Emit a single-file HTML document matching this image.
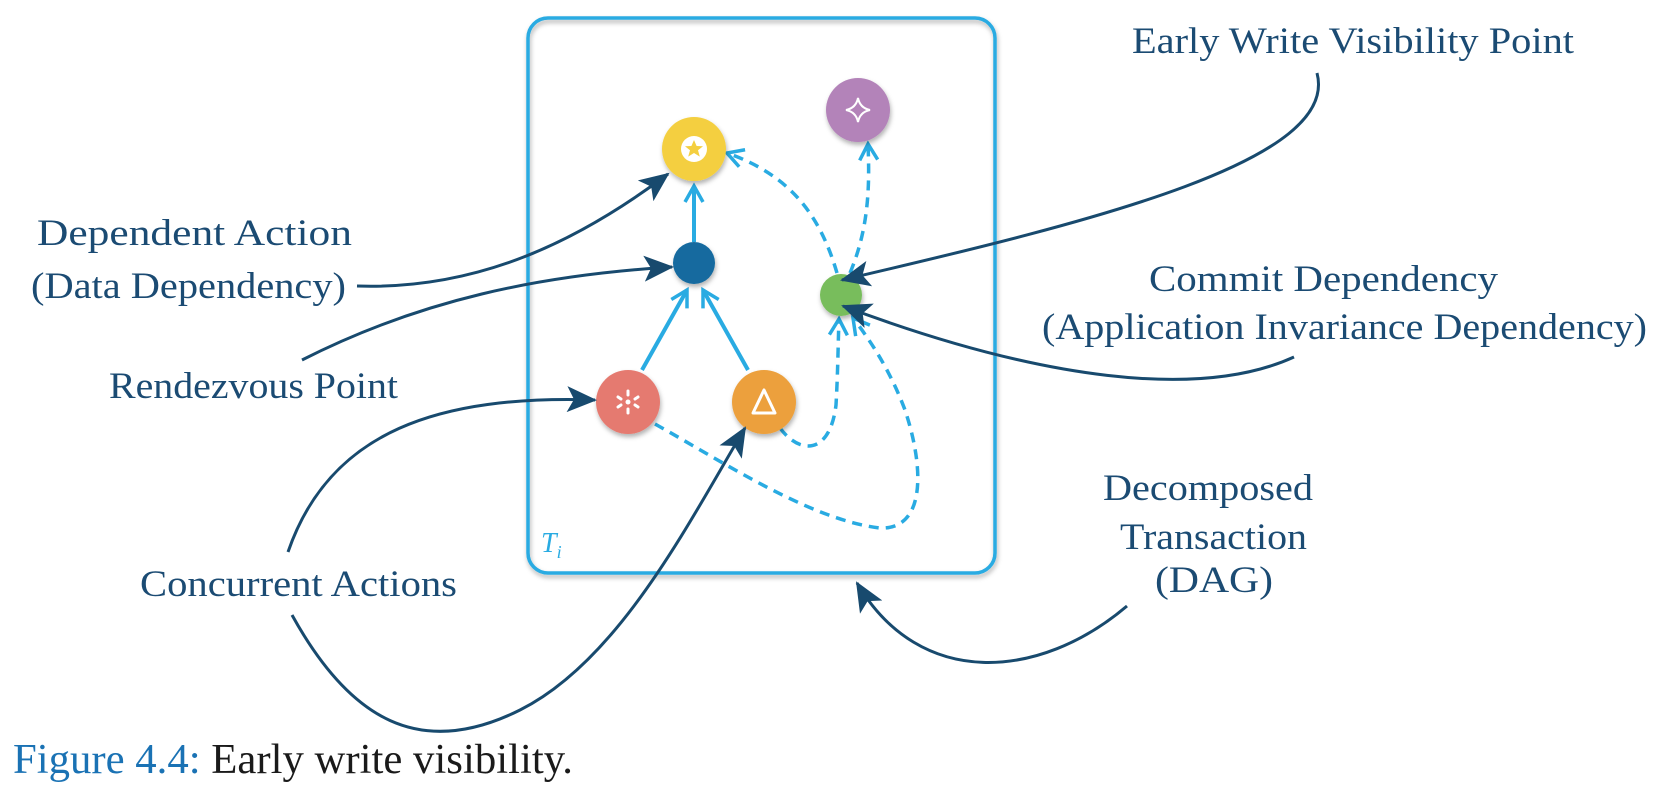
<!DOCTYPE html>
<html><head><meta charset="utf-8"><style>
html,body{margin:0;padding:0;background:#fff;}
svg{display:block;}
text{font-family:"Liberation Serif",serif;fill:#1b4b73;font-size:37px;}
</style></head><body>
<svg width="1656" height="790" viewBox="0 0 1656 790" xmlns="http://www.w3.org/2000/svg">
<defs>
<marker id="adB" markerWidth="30" markerHeight="26" refX="28" refY="13" orient="auto" markerUnits="userSpaceOnUse" viewBox="0 0 30 26">
<path d="M0,0 L30,13 L0,26 L7,13 Z" fill="#184a6e"/></marker>
<marker id="al" markerWidth="22" markerHeight="22" refX="18" refY="11" orient="auto" markerUnits="userSpaceOnUse" viewBox="0 0 22 22">
<path d="M2,2 L18,11 L2,20" fill="none" stroke="#29abe2" stroke-width="3.5"/></marker>
<filter id="sh" x="-30%" y="-30%" width="160%" height="160%"><feDropShadow dx="1" dy="3" stdDeviation="2.5" flood-color="#000" flood-opacity="0.3"/></filter>
</defs>

<rect x="528" y="18" width="467" height="555" rx="20" fill="none" stroke="#29abe2" stroke-width="3.5" filter="url(#sh)"/>
<text x="541" y="552" style="fill:#29abe2;font-style:italic;font-size:28px">T<tspan font-size="18" dy="6">i</tspan></text>

<g stroke="#29abe2" stroke-width="4" fill="none">
<path d="M642,370 L687,290" marker-end="url(#al)"/>
<path d="M748,370 L703,290" marker-end="url(#al)"/>
<path d="M694,242 L694,186" marker-end="url(#al)"/>
</g>
<g stroke="#29abe2" stroke-width="3.5" fill="none" stroke-dasharray="10 7">
<path d="M837,273 C820,215 790,175 727,153" marker-end="url(#al)"/>
<path d="M850,273 C868,230 870,190 868,144" marker-end="url(#al)"/>
<path d="M780,428 C800,455 830,455 836,405 C838,370 838,345 839,319" marker-end="url(#al)"/>
<path d="M655,424 C720,460 810,520 880,528 C925,530 925,470 905,410 C890,370 870,340 853,318" marker-end="url(#al)"/>
</g>

<g filter="url(#sh)">
<circle cx="694" cy="149" r="32" fill="#f4cf3f"/>
<circle cx="858" cy="110" r="32" fill="#b383b9"/>
<circle cx="694" cy="263" r="21" fill="#136a9f"/>
<circle cx="841" cy="295" r="21" fill="#78bd5c"/>
<circle cx="628" cy="402" r="32" fill="#e57a70"/>
<circle cx="764" cy="402" r="32" fill="#eca03c"/>
</g>
<circle cx="694" cy="149" r="13" fill="#fff"/>
<path d="M694,140 L696.6,146 L703,146.2 L698,150.3 L699.8,156.6 L694,153 L688.2,156.6 L690,150.3 L685,146.2 L691.4,146 Z" fill="#f4cf3f"/>
<path d="M858,98 Q860,108 870,110 Q860,112 858,122 Q856,112 846,110 Q856,108 858,98 Z" fill="none" stroke="#fff" stroke-width="2"/>
<g stroke="#fff" stroke-width="3" stroke-linecap="round">
<line x1="628" y1="391" x2="628" y2="395"/><line x1="628" y1="409" x2="628" y2="413"/>
<line x1="618" y1="397" x2="621" y2="399"/><line x1="635" y1="405" x2="638" y2="407"/>
<line x1="618" y1="407" x2="621" y2="405"/><line x1="635" y1="399" x2="638" y2="397"/>
</g>
<circle cx="628" cy="402" r="2.5" fill="#fff"/>
<path d="M764,390 L775,413 L753,413 Z" fill="none" stroke="#fff" stroke-width="3" stroke-linejoin="round"/>

<g stroke="#184a6e" stroke-width="3" fill="none">
<path d="M357,286 C480,290 580,240 668,174" marker-end="url(#adB)"/>
<path d="M302,360 C420,300 540,275 672,267" marker-end="url(#adB)"/>
<path d="M288,552 C330,430 440,395 595,400" marker-end="url(#adB)"/>
<path d="M292,615 C350,720 420,760 520,710 C620,660 690,520 745,428" marker-end="url(#adB)"/>
<path d="M1317,73 C1340,160 1100,220 842,280" marker-end="url(#adB)"/>
<path d="M1294,357 C1200,400 1040,380 843,306" marker-end="url(#adB)"/>
<path d="M1127,606 C1040,680 920,690 857,583" marker-end="url(#adB)"/>
</g>

<text x="37" y="245" textLength="315" lengthAdjust="spacingAndGlyphs">Dependent Action</text>
<text x="31" y="298" textLength="315" lengthAdjust="spacingAndGlyphs">(Data Dependency)</text>
<text x="109" y="398" textLength="289" lengthAdjust="spacingAndGlyphs">Rendezvous Point</text>
<text x="140" y="596" textLength="317" lengthAdjust="spacingAndGlyphs">Concurrent Actions</text>
<text x="1132" y="53" textLength="442" lengthAdjust="spacingAndGlyphs">Early Write Visibility Point</text>
<text x="1149" y="291" textLength="349" lengthAdjust="spacingAndGlyphs">Commit Dependency</text>
<text x="1042" y="339" textLength="605" lengthAdjust="spacingAndGlyphs">(Application Invariance Dependency)</text>
<text x="1103" y="500" textLength="210" lengthAdjust="spacingAndGlyphs">Decomposed</text>
<text x="1120" y="549" textLength="187" lengthAdjust="spacingAndGlyphs">Transaction</text>
<text x="1155" y="592" textLength="118" lengthAdjust="spacingAndGlyphs">(DAG)</text>

<text x="13" y="773" style="font-size:42px;fill:#1a1a1a" textLength="560" lengthAdjust="spacingAndGlyphs"><tspan fill="#1a72b4">Figure 4.4:</tspan> Early write visibility.</text>
</svg>
</body></html>
